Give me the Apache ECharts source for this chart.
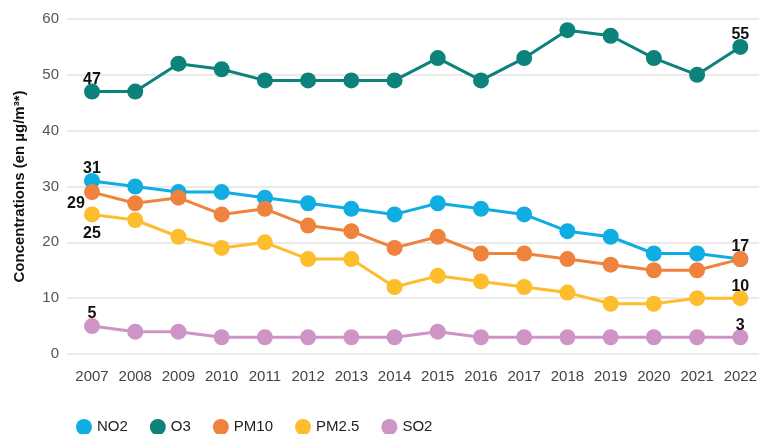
<!DOCTYPE html>
<html>
<head>
<meta charset="utf-8">
<script src="https://cdn.jsdelivr.net/npm/echarts@6/dist/echarts.min.js"></script>
<style>
  html, body { margin: 0; padding: 0; background: #fff; }
  #myChart { width: 760px; height: 434px; }
</style>
</head>
<body>
<div id="myChart"></div>
<script>
// années
var years = ['2007', '2008', '2009', '2010', '2011', '2012', '2013', '2014',
  '2015', '2016', '2017', '2018', '2019', '2020', '2021', '2022'];
// concentrations moyennes (µg/m3)
var no2 = [31, 30, 29, 29, 28, 27, 26, 25, 27, 26, 25, 22, 21, 18, 18, 17];
var o3 = [47, 47, 52, 51, 49, 49, 49, 49, 53, 49, 53, 58, 57, 53, 50, 55];
var pm10 = [29, 27, 28, 25, 26, 23, 22, 19, 21, 18, 18, 17, 16, 15, 15, 17];
var pm25 = [25, 24, 21, 19, 20, 17, 17, 12, 14, 13, 12, 11, 9, 9, 10, 10];
var so2 = [5, 4, 4, 3, 3, 3, 3, 3, 4, 3, 3, 3, 3, 3, 3, 3];

var font = 'Helvetica, Arial, "Liberation Sans", sans-serif';

// étiquette en gras pour premier / dernier point
function lbl(pos, offset) {
  var l = {
    show: true,
    position: pos,
    distance: pos === 'top' ? -4 : 3,
    color: '#111',
    fontWeight: 'bold',
    fontSize: 16,
    fontFamily: font
  };
  if (offset) l.offset = offset;
  return l;
}

// ajoute les étiquettes aux extrémités
function withEnds(arr, first, last) {
  var out = [];
  for (var i = 0; i < arr.length; i++) {
    var d = { value: arr[i] };
    if (i === 0 && first) d.label = first;
    else if (i === arr.length - 1 && last) d.label = last;
    out.push(d);
  }
  return out;
}

function line(name, color, data) {
  return {
    name: name,
    type: 'line',
    xAxisIndex: 1,
    yAxisIndex: 1,
    symbol: 'circle',
    symbolSize: 16,
    lineStyle: { width: 3, color: color },
    itemStyle: { color: color },
    label: { show: false },
    emphasis: { disabled: true },
    data: data
  };
}

var myChart = echarts.init(document.getElementById('myChart'));
var option = {
  animation: false,
  textStyle: { fontFamily: font },
  legend: {
    left: 71,
    top: 414,
    icon: 'circle',
    itemWidth: 16,
    itemHeight: 16,
    itemGap: 22,
    textStyle: { fontSize: 15, color: '#222', fontFamily: font },
    data: ['NO2', 'O3', 'PM10', 'PM2.5', 'SO2']
  },
  grid: [
    { left: 67, right: 1, top: 19, bottom: 80 },
    { left: 92, right: 15, top: 19, bottom: 80 }
  ],
  xAxis: [
    { gridIndex: 0, type: 'category', data: years, show: false },
    {
      gridIndex: 1,
      type: 'category',
      boundaryGap: false,
      data: years,
      axisLine: { show: false },
      axisTick: { show: false },
      axisLabel: { interval: 0, margin: 15, fontSize: 15, color: '#444', fontFamily: font }
    }
  ],
  yAxis: [
    {
      gridIndex: 0,
      type: 'value',
      min: 0,
      max: 60,
      interval: 10,
      name: 'Concentrations (en µg/m³*)',
      nameLocation: 'middle',
      nameGap: 40,
      nameTextStyle: { fontSize: 15, fontWeight: 'bold', color: '#111', fontFamily: font },
      axisLine: { show: false },
      axisTick: { show: false },
      axisLabel: { margin: 8, fontSize: 15, color: '#555', fontFamily: font },
      splitLine: { lineStyle: { color: '#e3e3e3', width: 1.5 } }
    },
    {
      gridIndex: 1,
      type: 'value',
      min: 0,
      max: 60,
      interval: 10,
      show: false,
      splitLine: { show: false }
    }
  ],
  series: [
    line('O3', '#0d827b', withEnds(o3, lbl('top'), lbl('top'))),
    line('NO2', '#10ade3', withEnds(no2, lbl('top'), null)),
    line('PM10', '#ef833d', withEnds(pm10, lbl('bottom', [-16, -7]), lbl('top'))),
    line('PM2.5', '#fdbd2c', withEnds(pm25, lbl('bottom'), lbl('top'))),
    line('SO2', '#cd94c5', withEnds(so2, lbl('top'), lbl('top')))
  ]
};
myChart.setOption(option);
</script>
</body>
</html>
